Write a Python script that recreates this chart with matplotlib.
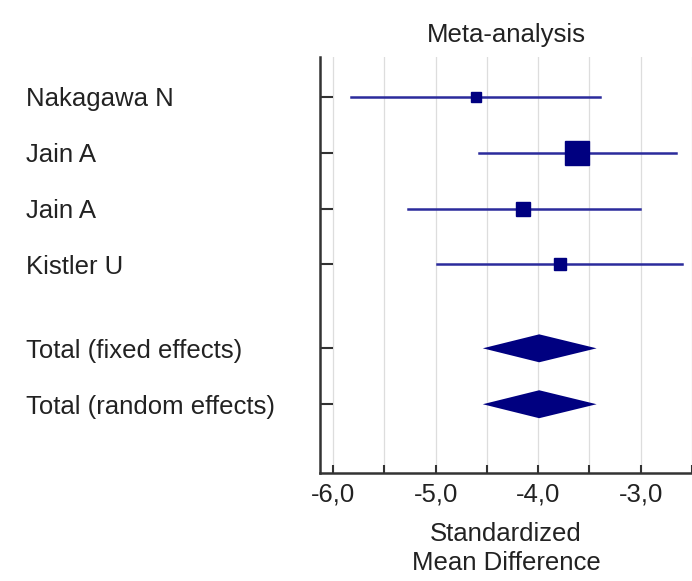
import numpy as np
import matplotlib
matplotlib.use("Agg")
import matplotlib.pyplot as plt
from matplotlib.ticker import FuncFormatter, MultipleLocator

plt.rcParams["font.family"] = ["Liberation Sans", "DejaVu Sans"]

studies = ["Nakagawa N", "Jain A", "Jain A", "Kistler U"]
smd = [-4.61, -3.62, -4.15, -3.79]
ci_low = [-5.82, -4.58, -5.27, -4.99]
ci_high = [-3.40, -2.66, -3.01, -2.60]
weights = [10.6, 54.8, 19.7, 14.8]

totals = ["Total (fixed effects)", "Total (random effects)"]
total_smd = [-3.99, -3.99]
total_low = [-4.54, -4.54]
total_high = [-3.43, -3.43]

line_col = "#2b2b9c"
mark_col = "#000080"
fs = 18.5

fig = plt.figure(figsize=(6.92, 5.81), dpi=100)
ax = fig.add_axes([320 / 692, 108 / 581, 372 / 692, 416 / 581])

ypos = list(range(len(studies)))
for y, m, lo, hi, w in zip(ypos, smd, ci_low, ci_high, weights):
    ax.plot([lo, hi], [y, y], color=line_col, lw=1.8, zorder=3)
    ax.plot(m, y, marker="s", color=mark_col, markersize=2.43 * np.sqrt(w),
            linestyle="none", zorder=4)

tot_pos = [len(studies) + 0.5, len(studies) + 1.5]
for y, m, lo, hi in zip(tot_pos, total_smd, total_low, total_high):
    ax.fill([lo, m, hi, m], [y, y - 0.25, y, y + 0.25], color=mark_col,
            lw=0, zorder=4)

ax.set_xlim(-6.127, -2.5)
ax.set_ylim(tot_pos[-1] + 1.23, -0.71)

ax.xaxis.set_major_locator(MultipleLocator(1.0))
ax.xaxis.set_minor_locator(MultipleLocator(0.5))
ax.xaxis.set_major_formatter(FuncFormatter(lambda v, p: f"{v:.1f}".replace(".", ",")))
ax.grid(True, axis="x", which="both", color="#dddddd", lw=0.9, zorder=0)

ax.set_yticks(ypos + tot_pos)
ax.set_yticklabels(studies + totals, ha="left")
ax.tick_params(axis="y", direction="in", length=9, width=1.5, pad=212,
               labelsize=fs, colors="#333333", labelcolor="#222222")
ax.tick_params(axis="x", which="both", direction="in", length=6, width=1.5,
               labelsize=fs, colors="#333333", labelcolor="#222222", pad=7)

for s in ["top", "right"]:
    ax.spines[s].set_visible(False)
for s in ["left", "bottom"]:
    ax.spines[s].set_color("#333333")
    ax.spines[s].set_linewidth(1.8)

ax.set_title("Meta-analysis", fontsize=fs, pad=11, color="#222222")
ax.set_xlabel("Standardized\nMean Difference", fontsize=fs, labelpad=11,
              color="#222222", linespacing=1.28)

fig.savefig("out.png", dpi=100)
